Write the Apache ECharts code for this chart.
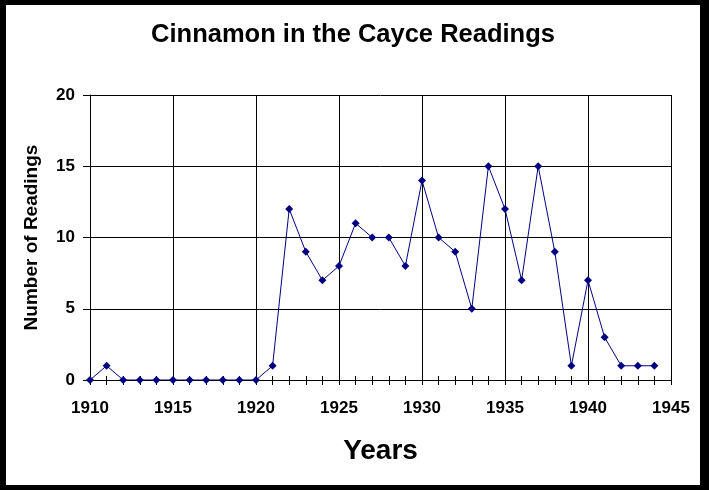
<!DOCTYPE html>
<html>
<head>
<meta charset="utf-8">
<script src="https://cdn.jsdelivr.net/npm/echarts@6/dist/echarts.min.js"></script>
<style>
  html, body { margin: 0; padding: 0; width: 709px; height: 490px; background: #000; overflow: hidden; }
  #c { position: absolute; left: 6px; top: 5px; width: 694px; height: 480px; background: #fff; }
</style>
</head>
<body>
<div id="c"></div>
<script>
const years = [1910,1911,1912,1913,1914,1915,1916,1917,1918,1919,1920,1921,1922,1923,1924,1925,1926,1927,1928,1929,1930,1931,1932,1933,1934,1935,1936,1937,1938,1939,1940,1941,1942,1943,1944];
const readings = [0,1,0,0,0,0,0,0,0,0,0,1,12,9,7,8,11,10,10,8,14,10,9,5,15,12,7,15,9,1,7,3,1,1,1];
const titleText = 'Cinnamon in the Cayce Readings';
const xName = 'Years';
const yName = 'Number of Readings';

const FONT = 'Liberation Sans, Arial, sans-serif';
const chart = echarts.init(document.getElementById('c'));
chart.setOption({
  backgroundColor: '#fff',
  animation: false,
  title: {
    text: titleText, left: 'center', top: 12,
    textStyle: { fontFamily: FONT, fontWeight: 'bold', fontSize: 25.5, color: '#000' }
  },
  grid: { left: 84, top: 90, right: 29, bottom: 105, containLabel: false },
  xAxis: [{
    type: 'value', min: 1910, max: 1945, interval: 5,
    name: xName, nameLocation: 'middle', nameGap: 57,
    nameTextStyle: { fontFamily: FONT, fontWeight: 'bold', fontSize: 28, color: '#000' },
    axisLine: { show: true, lineStyle: { color: '#000', width: 1 } },
    axisTick: { show: true, inside: false, length: 5, lineStyle: { color: '#000' } },
    minorTick: { show: true, splitNumber: 5, length: 5, lineStyle: { color: '#000' } },
    axisLabel: { fontFamily: FONT, fontWeight: 'bold', fontSize: 17, color: '#000', margin: 20, formatter: v => String(v) },
    splitLine: { show: true, lineStyle: { color: '#000', width: 1 } }
  }, {
    type: 'value', min: 1910, max: 1945, interval: 1, position: 'bottom',
    axisLine: { show: false },
    axisTick: { show: true, inside: true, length: 4, lineStyle: { color: '#000' } },
    axisLabel: { show: false },
    splitLine: { show: false }
  }],
  yAxis: {
    type: 'value', min: 0, max: 20, interval: 5,
    name: yName, nameLocation: 'middle', nameGap: 49, nameRotate: 90,
    nameTextStyle: { fontFamily: FONT, fontWeight: 'bold', fontSize: 19, color: '#000' },
    axisLine: { show: true, lineStyle: { color: '#000', width: 1 } },
    axisTick: { show: true, inside: false, length: 7, lineStyle: { color: '#000' } },
    axisLabel: { fontFamily: FONT, fontWeight: 'bold', fontSize: 17, color: '#000', margin: 15 },
    splitLine: { show: true, lineStyle: { color: '#000', width: 1 } }
  },
  series: [{
    type: 'line',
    data: years.map((y, i) => [y, readings[i]]),
    symbol: 'diamond', symbolSize: 8,
    lineStyle: { color: '#000080', width: 1 },
    itemStyle: { color: '#000080' }
  }]
});
</script>
</body>
</html>
